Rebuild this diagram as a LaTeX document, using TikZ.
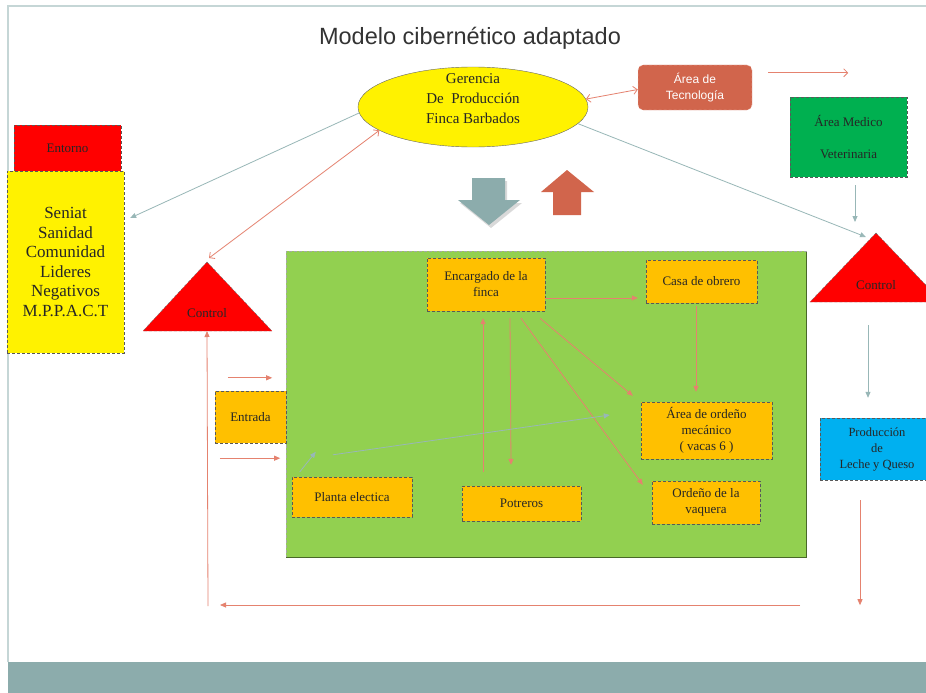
\documentclass[tikz,border=0pt]{standalone}
\usepackage{fontspec}
\setmainfont{Liberation Serif}
\newfontfamily\sansfam{Liberation Sans}
\usetikzlibrary{shapes.geometric,arrows.meta,calc}
\definecolor{boxorange}{HTML}{FFC000}
\definecolor{biggreen}{HTML}{92D050}
\definecolor{medgreen}{HTML}{00B050}
\definecolor{prodblue}{HTML}{00B0F0}
\definecolor{tecred}{HTML}{D1654C}
\definecolor{salmon}{HTML}{E5826F}
\definecolor{grayarr}{HTML}{98B7B7}
\definecolor{band}{HTML}{8CACAC}
\definecolor{frame}{HTML}{C5D6D6}
\definecolor{txt}{HTML}{262626}
\begin{document}
\begin{tikzpicture}[x=1pt,y=-1pt,
  dashbox/.style={draw=black!65, densely dashed, line width=0.4pt, align=center, text=txt, inner sep=1pt},
  obox/.style={dashbox, fill=boxorange, font=\fontsize{13}{16}\selectfont},
  rarr/.style={draw=salmon, line width=0.8pt, -{Triangle[length=6pt,width=5pt]}},
  garr/.style={draw=grayarr, line width=0.8pt, -{Triangle[length=6pt,width=5pt]}},
  barb/.style={draw=salmon, line width=0.8pt, -{Straight Barb[length=4pt,width=8pt]}},
  dbarb/.style={draw=salmon, line width=0.8pt, {Straight Barb[length=4pt,width=8pt]}-{Straight Barb[length=4pt,width=8pt]}},
  tri/.style={fill=red, draw=black!60, densely dashed, line width=0.4pt},
  lbl/.style={text=txt, font=\fontsize{13}{15}\selectfont}
]
\useasboundingbox (0,0) rectangle (926,693);
\fill[white] (0,0) rectangle (926,693);
% frame
\draw[frame, line width=1.5pt] (8,662) -- (8,6) -- (926,6);
\fill[band] (8,662) rectangle (926,693);

% title
\node[font=\sansfam\fontsize{23.5}{27}\selectfont, text=black!80] (title) at (470,38) {Modelo cibernético adaptado};

% ellipse
\node[ellipse, fill=yellow, draw=black!60, line width=0.4pt, minimum width=230pt, minimum height=80pt, inner sep=0pt] (ger) at (473,107) {};
\node[align=center, text=txt, font=\fontsize{15}{20}\selectfont, inner sep=0pt] (gertxt) at ($(ger.center)+(0,-8)$) {Gerencia\\De\ \ Producción\\Finca Barbados};

% tecnologia
\node[rounded corners=5pt, fill=tecred, draw=white!70!tecred, densely dashed, line width=0.4pt, minimum width=114pt, minimum height=45pt, align=center, text=white, font=\sansfam\fontsize{12}{16}\selectfont] (tec) at (695,87.5) {Área de\\Tecnología};

% medico veterinaria
\node[dashbox, fill=medgreen, minimum width=117pt, minimum height=80pt, font=\fontsize{13}{32}\selectfont] (med) at (848.5,137) {Área Medico\\Veterinaria};

% entorno
\node[dashbox, fill=red, minimum width=107pt, minimum height=47pt, font=\fontsize{13}{15}\selectfont] (ent) at (67.5,148.5) {Entorno};
\node[dashbox, fill=yellow, minimum width=117pt, minimum height=182pt, font=\fontsize{17}{19.5}\selectfont] (yel) at (65.5,262) {Seniat\\Sanidad\\Comunidad\\Lideres\\Negativos\\M.P.P.A.C.T};

% triangles
\coordinate (ctrLapex) at (207,262);
\coordinate (ctrLbase) at (207,331);
\path[tri] (ctrLapex) -- (272,331) -- (143,331) -- cycle;
\node[lbl] (ctrL) at (207,313) {Control};
\coordinate (ctrRapex) at (876,233);
\coordinate (ctrRbase) at (876,302);
\path[tri] (ctrRapex) -- (942,302) -- (810,302) -- cycle;
\node[lbl] (ctrR) at (876,285) {Control};

% big arrows
\fill[black!15] (474,181) -- (507,181) -- (507,203) -- (522,203) -- (491,228) -- (460,203) -- (474,203) -- cycle;
\fill[band] (472,178) -- (505,178) -- (505,200) -- (520,200) -- (489,225) -- (458,200) -- (472,200) -- cycle;
\fill[tecred] (553,215) -- (581,215) -- (581,192) -- (594,192) -- (567,170) -- (541,192) -- (553,192) -- cycle;

% green area
\node[fill=biggreen, draw=gray!70, densely dashed, line width=0.5pt, minimum width=520pt, minimum height=306pt] (green) at (546,404) {};
\draw[black!50!biggreen, line width=1pt] (286,557) -- (806,557) -- (806,252);

% inner boxes
\node[obox, minimum width=118pt, minimum height=53pt] (enc) at (486,284.5) {Encargado de la\\finca};
\node[obox, minimum width=111pt, minimum height=43pt] (casa) at (701.5,281.5) {Casa de obrero};
\node[obox, minimum width=131pt, minimum height=57pt] (area) at (706.5,430.5) {Área de ordeño\\mecánico\\( vacas 6 )};
\node[obox, minimum width=108pt, minimum height=43pt] (ord) at (706,502.5) {Ordeño de la\\vaquera};
\node[obox, minimum width=119pt, minimum height=35pt] (pot) at (521.5,503.5) {Potreros};
\node[obox, minimum width=120pt, minimum height=40pt] (planta) at (352,497) {Planta electica};
\node[obox, minimum width=71pt, minimum height=52pt] (entr) at (250.5,417) {Entrada};

% production
\node[dashbox, fill=prodblue, minimum width=114pt, minimum height=62pt, font=\fontsize{12.5}{16}\selectfont] (prod) at (877,449) {Producción\\de\\Leche y Queso};

% connectors top
\draw[dbarb] (ger.4) -- ($(tec.west)+(0,2)$);
\coordinate (tecfree) at ($(tec.north east)+(96,8)$);
\draw[barb] ($(tec.north east)+(16,8)$) -- (tecfree);
\draw[garr] (ger.183) -- ($(yel.east)+(6,-44)$);
\draw[dbarb] (ger.194) -- ($(ctrLapex)+(2,-4)$);
\draw[garr] (ger.-9) -- ($(ctrRapex)+(-10,4)$);
\draw[garr] ($(med.south)+(6.5,8)$) -- ($(ctrRapex)+(-21,-11)$);
\draw[garr] ($(ctrRbase)+(-8,23)$) -- ($(prod.north)+(-9,-20)$);

% inner connectors
\draw[rarr] ($(enc.east)+(0,13.5)$) -- ($(casa.west)+(-8,16.5)$);
\draw[rarr] ($(casa.south)+(-5.5,3)$) -- ($(area.north)+(-10.5,-10)$);
\draw[rarr] ($(enc.south)+(54,7)$) -- ($(area.north west)+(-8,-6)$);
\draw[rarr] ($(enc.south)+(35,7)$) -- ($(ord.north west)+(-9,4)$);
\draw[rarr] ($(enc.south)+(24,7)$) -- ($(pot.north)+(-10.5,-21)$);
\draw[rarr] ($(pot.north)+(-38.5,-14)$) -- ($(enc.south)+(-3,7)$);
\draw[garr] ($(planta.north west)+(8,-5)$) -- ($(planta.north west)+(24,-25)$);
\draw[garr] ($(planta.north west)+(41,-22)$) -- ($(area.west)+(-31,-15.5)$);
\draw[rarr] ($(entr.north west)+(13,-13)$) -- ($(entr.north east)+(-14,-13)$);
\draw[rarr] ($(entr.south west)+(5,15)$) -- ($(entr.south east)+(-6,15)$);

% feedback loop
\coordinate (fbR) at (800,605);
\coordinate (fbL) at (220,605);
\coordinate (fbC) at (208,606);
\draw[rarr] ($(prod.south)+(-17,20)$) -- ($(prod.south)+(-17,125)$);
\draw[rarr] (fbR) -- (fbL);
\draw[rarr] (fbC) -- (ctrLbase);
\end{tikzpicture}
\end{document}
